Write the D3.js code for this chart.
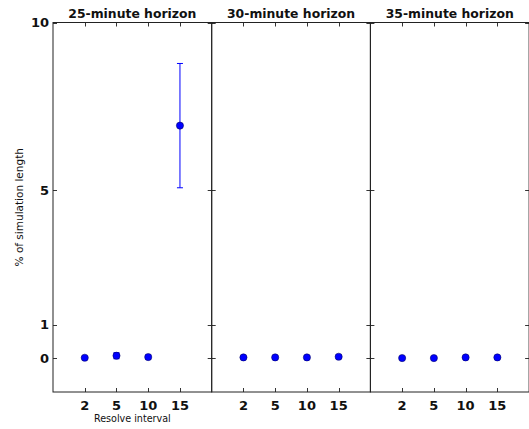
<!DOCTYPE html>
<html>
<head>
<meta charset="utf-8">
<script src="https://cdn.jsdelivr.net/npm/d3@7"></script>
<style>
  html, body { margin: 0; padding: 0; background: #fff; }
  svg { display: block; }
  text { font-family: "DejaVu Sans", sans-serif; fill: #111; }
</style>
</head>
<body>
<svg id="chart" width="529" height="429"></svg>
<script>
// Resolve intervals (x categories) and horizons (one panel each)
const intervals = ["2", "5", "10", "15"];
const horizons = ["25-minute horizon", "30-minute horizon", "35-minute horizon"];

// Mean and spread (% of simulation length) for each horizon, by interval
const means25 = [0.02, 0.08, 0.04, 6.93];
const errs25  = [0.03, 0.09, 0.06, 1.85];
const means30 = [0.03, 0.03, 0.03, 0.05];
const errs30  = [0.02, 0.02, 0.03, 0.05];
const means35 = [0.01, 0.01, 0.03, 0.03];
const errs35  = [0.02, 0.02, 0.02, 0.03];

const yTicks = [0, 1, 5, 10];

const panels = [
  { title: horizons[0], means: means25, errs: errs25 },
  { title: horizons[1], means: means30, errs: errs30 },
  { title: horizons[2], means: means35, errs: errs35 }
];

const svg = d3.select("#chart");
const plotLeft = 53, plotTop = 22.5, plotBottom = 392, panelW = 158.7;
const tickLen = 4;

const y = d3.scaleLinear().domain([-1, 10]).range([plotBottom, plotTop]);

panels.forEach((p, i) => {
  const x0 = plotLeft + i * panelW;
  const x = d3.scaleLinear().domain([0, 5]).range([x0, x0 + panelW]);
  const g = svg.append("g");

  // Error bars
  const pts = intervals.map((lab, k) => ({ k: k + 1, m: p.means[k], e: p.errs[k] }));
  const eb = g.append("g").attr("stroke", "#0000ff").attr("stroke-width", 1);
  pts.forEach(d => {
    eb.append("line")
      .attr("x1", x(d.k)).attr("x2", x(d.k))
      .attr("y1", y(d.m - d.e)).attr("y2", y(d.m + d.e));
    [d.m - d.e, d.m + d.e].forEach(v => {
      eb.append("line")
        .attr("x1", x(d.k) - 3).attr("x2", x(d.k) + 3)
        .attr("y1", y(v)).attr("y2", y(v));
    });
  });

  // Mean markers
  g.selectAll("circle.pt").data(pts).join("circle")
    .attr("class", "pt")
    .attr("cx", d => x(d.k)).attr("cy", d => y(d.m))
    .attr("r", 3.6)
    .attr("fill", "#0000ff")
    .attr("stroke", "#00004d").attr("stroke-width", 0.5);

  // Inward ticks on all four sides
  const tk = g.append("g").attr("stroke", "#000").attr("stroke-width", 0.8);
  intervals.forEach((lab, k) => {
    const xx = Math.round(x(k + 1)) + 0.5;
    tk.append("line").attr("x1", xx).attr("x2", xx).attr("y1", plotBottom).attr("y2", plotBottom - tickLen);
    tk.append("line").attr("x1", xx).attr("x2", xx).attr("y1", plotTop).attr("y2", plotTop + tickLen);
  });
  yTicks.forEach(v => {
    const yy = Math.round(y(v)) + 0.5;
    tk.append("line").attr("x1", x0).attr("x2", x0 + tickLen).attr("y1", yy).attr("y2", yy);
    tk.append("line").attr("x1", x0 + panelW).attr("x2", x0 + panelW - tickLen).attr("y1", yy).attr("y2", yy);
  });

  // Frame
  g.append("rect")
    .attr("x", x0).attr("y", plotTop)
    .attr("width", panelW).attr("height", plotBottom - plotTop)
    .attr("fill", "none").attr("stroke", "#222").attr("stroke-width", 1);

  // X tick labels
  g.selectAll("text.xt").data(intervals).join("text")
    .attr("class", "xt")
    .attr("x", (d, k) => x(k + 1)).attr("y", plotBottom + 18)
    .attr("text-anchor", "middle")
    .attr("font-size", 13).attr("font-weight", "bold")
    .text(d => d);

  // Panel title
  g.append("text")
    .attr("x", x(2.5)).attr("y", plotTop - 5)
    .attr("text-anchor", "middle")
    .attr("font-size", 12.4).attr("font-weight", "bold")
    .text(p.title);

  // Y tick labels only on the first panel
  if (i === 0) {
    g.selectAll("text.yt").data(yTicks).join("text")
      .attr("class", "yt")
      .attr("x", x0 - 4).attr("y", v => y(v))
      .attr("dy", "0.35em")
      .attr("text-anchor", "end")
      .attr("font-size", 13).attr("font-weight", "bold")
      .text(v => v);

    g.append("text")
      .attr("x", x(2.5)).attr("y", 422)
      .attr("text-anchor", "middle")
      .attr("font-size", 9.6)
      .text("Resolve interval");

    g.append("text")
      .attr("transform", `translate(23, ${(plotTop + plotBottom) / 2}) rotate(-90)`)
      .attr("text-anchor", "middle")
      .attr("font-size", 10.5)
      .text("% of simulation length");
  }
});
</script>
</body>
</html>
